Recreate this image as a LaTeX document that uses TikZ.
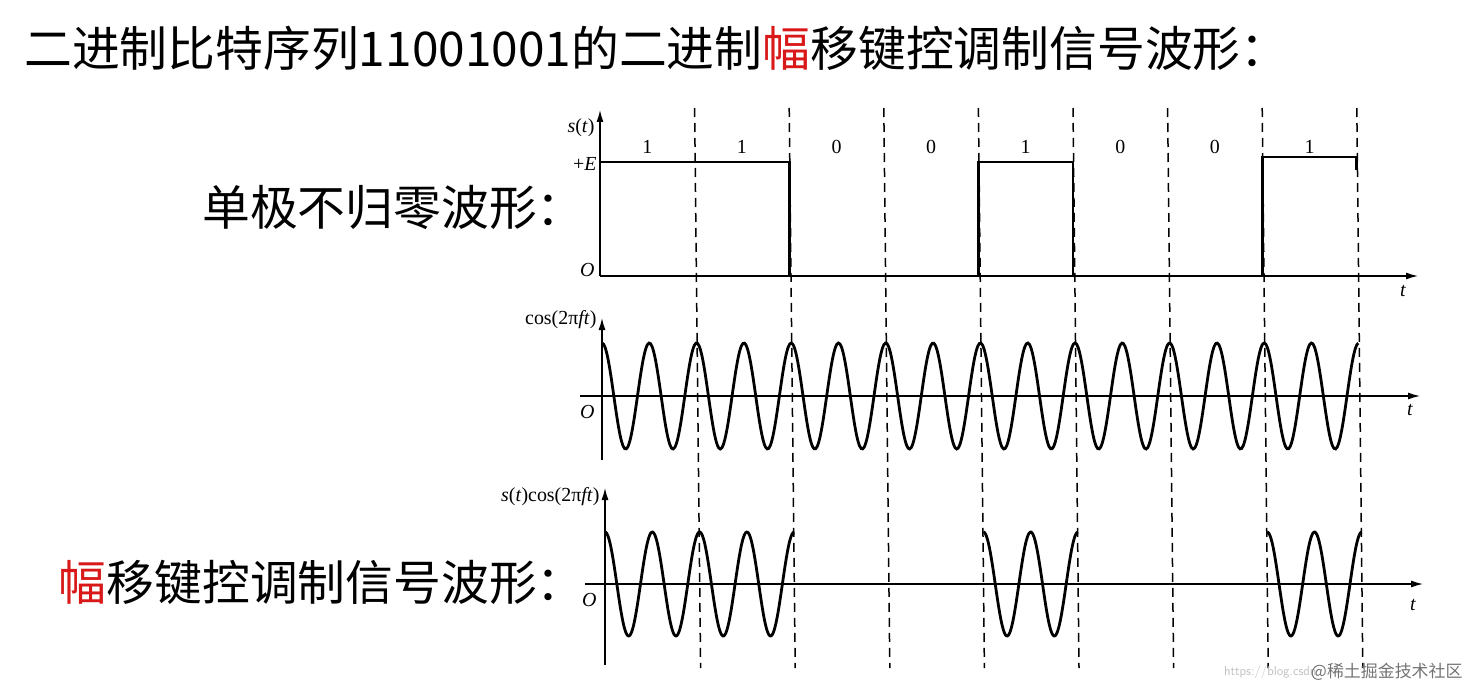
\documentclass[tikz,border=0pt]{standalone}
\usepackage{fontspec}
\setmainfont{Liberation Serif}
\newfontfamily\cjk{Noto Sans CJK SC}
\usetikzlibrary{arrows.meta}
\begin{document}
\begin{tikzpicture}[x=1bp,y=-1bp,
  ax/.style={line width=1.3bp,-{Latex[length=12bp,width=7bp]}},
  wave/.style={line width=2.8bp},
  dsh/.style={line width=1.5bp,dash pattern=on 9bp off 6bp},
  lbl/.style={font=\fontsize{20}{20}\selectfont},
  cn/.style={font=\cjk\fontsize{48}{48}\selectfont}]
\useasboundingbox (0,0) rectangle (1472,692);
\def\W{94.6}
% title
\node[cn,anchor=west,inner sep=0pt] (title) at (24,48) {二进制比特序列11001001的二进制\textcolor[rgb]{0.85,0.1,0.1}{幅}移键控调制信号波形：};
\node[cn,anchor=east,inner sep=0pt] (l1) at (585,207) {单极不归零波形：};
\node[cn,anchor=east,inner sep=0pt] (l2) at (585,582) {\textcolor[rgb]{0.85,0.1,0.1}{幅}移键控调制信号波形：};
% dashed lines
\foreach \k in {1,...,8} \draw[dsh] ({600+\k*\W},108) -- ({600+\k*\W+6},668);
% panel 1
\draw[ax] (600,276) -- (600,110);
\draw[ax] (600,276) -- (1418,276);
\node[lbl,anchor=east] (s) at (598,128) {\textit{s}(\textit{t})};
\node[lbl,anchor=east] (E) at (600,164) {+\textit{E}};
\node[lbl,anchor=east] (o1) at (598,270) {\textit{O}};
\node[lbl] (t1) at (1403,291) {\textit{t}};
\draw[wave,line join=miter] (600,162) -- ({600+2*\W},162) -- ({600+2*\W},276) -- ({600+4*\W},276) -- ({600+4*\W},162) -- ({600+5*\W},162) -- ({600+5*\W},276) -- ({600+7*\W},276) -- ({600+7*\W},157) -- ({600+8*\W},157) -- ({600+8*\W},170);
\foreach \b [count=\i from 0] in {1,1,0,0,1,0,0,1}
  \node[lbl] at ({600+(\i+0.5)*\W},147) {\b};
% panel 2
\draw[ax] (602,460) -- (602,318);
\draw[ax] (580,396) -- (1420,396);
\node[lbl,anchor=east] (c) at (600,320) {cos(2π\textit{ft})};
\node[lbl,anchor=east] (o2) at (598,412) {\textit{O}};
\node[lbl] (t2) at (1410,410) {\textit{t}};
\draw[wave,domain=0:8,samples=500,smooth] plot ({602+\x*\W},{396-53*cos(720*\x)});
% panel 3
\draw[ax] (605,665) -- (605,488);
\draw[ax] (585,584) -- (1423,584);
\node[lbl,anchor=east] (sc) at (603,497) {\textit{s}(\textit{t})cos(2π\textit{ft})};
\node[lbl,anchor=east] (o3) at (600,600) {\textit{O}};
\node[lbl] (t3) at (1413,605) {\textit{t}};
\draw[wave,domain=0:2,samples=200,smooth] plot ({605+\x*\W},{584-52*cos(720*\x)});
\draw[wave,domain=4:5,samples=100,smooth] plot ({605+\x*\W},{584-52*cos(720*\x)});
\draw[wave,domain=7:8,samples=100,smooth] plot ({605+\x*\W},{584-52*cos(720*\x)});
% watermark
\node[anchor=east,text=black!25,font=\sffamily\fontsize{13}{13}\selectfont] (wm1) at (1320,672) {https://blog.csdn};
\node[anchor=east,text=black!55,font=\cjk\fontsize{17}{17}\selectfont] (wm2) at (1466,672) {@稀土掘金技术社区};
\end{tikzpicture}
\end{document}
